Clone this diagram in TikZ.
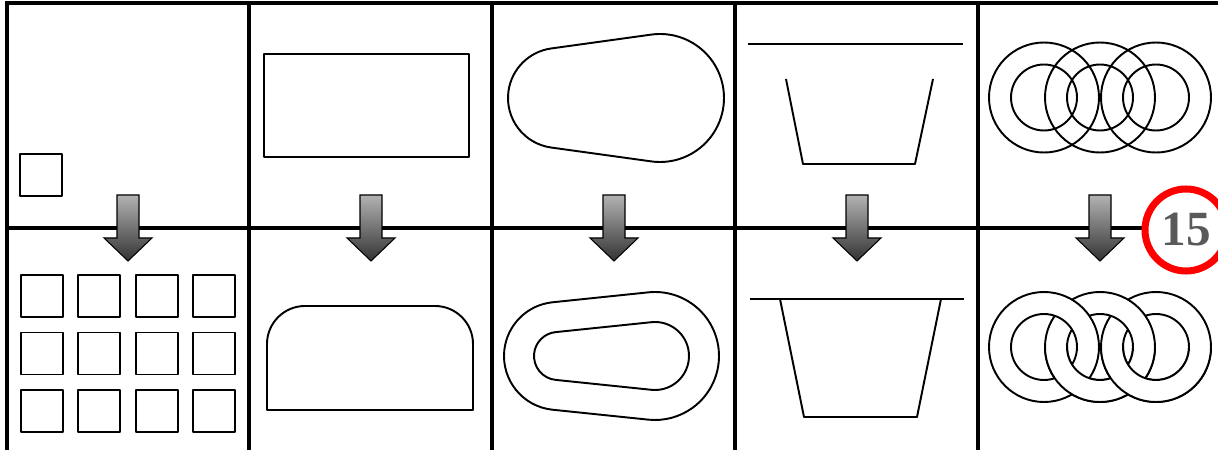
\documentclass[tikz,border=0pt]{standalone}
\usepackage{fontspec}
\newfontfamily\badgefont{Liberation Serif}
\usetikzlibrary{positioning}

\begin{document}
\begin{tikzpicture}[x=0.02cm, y=0.02cm,
        gridline/.style={line width=1.8pt},
        outline/.style={line width=1.1pt, line join=round},
        ring/.style={outline, fill=white, even odd rule},
        downarrow/.style={draw=black, line width=0.6pt, top color=black!30, bottom color=black!80},
        badge/.style={circle, draw=red, line width=4pt, fill=white, minimum size=1.64cm, inner sep=0pt,
            text=black!65, font=\badgefont\bfseries\fontsize{28}{30}\selectfont}]

        \useasboundingbox (0,0) rectangle (1218,450);

        % Table lines
        \draw[gridline] (7,0) -- (7,447) -- (1218,447);
        \draw[gridline] (7,222) -- (1218,222);
        \foreach \x in {249,492,735,978}
            \draw[gridline] (\x,0) -- (\x,447);

        % 1st column: one square, then an array of squares
        \draw[outline] (20,254) rectangle (62,296);
        \foreach \i in {0,...,3}
            \foreach \j in {0,1,2}
                \draw[outline] ({21+57.3*\i},{18+57.5*\j}) rectangle +(42,42);

        % 2nd column: rectangle, then rounded top edges
        \draw[outline] (264,293) rectangle (469,396);
        \draw[outline] (267,40) -- (267,106) arc (180:90:38) -- (435,144) arc (90:0:38) -- (473,40) -- cycle;

        % 3rd column: contour, then offset contour
        \draw[outline] ([shift={(97.89:64)}]660,352) arc (97.89:-97.89:64)
            -- ([shift={(262.11:50)}]558,352) arc (262.11:97.89:50) -- cycle;
        \draw[outline] ([shift={(95.92:64)}]655,94) arc (95.92:-95.92:64)
            -- ([shift={(264.08:54)}]558,94) arc (264.08:95.92:54) -- cycle;
        \draw[outline] ([shift={(95.92:34)}]655,94) arc (95.92:-95.92:34)
            -- ([shift={(264.08:24)}]558,94) arc (264.08:95.92:24) -- cycle;

        % 4th column: open profile, then joined to the line
        \draw[outline] (748,406) -- (963,406);
        \draw[outline] (786,371) -- (803,286) -- (915,286) -- (933,371);
        \draw[outline] (750,151) -- (964,151);
        \draw[outline] (780,151) -- (804,33) -- (917,33) -- (941,151);

        % 5th column: overlapping circles, then linked rings
        \foreach \x in {1044,1100,1156} {
            \draw[outline] (\x,352.5) circle (55);
            \draw[outline] (\x,352.5) circle (33);
        }
        \foreach \x in {1156,1100,1044}
            \filldraw[ring] (\x,103) circle (55) (\x,103) circle (33);
        \foreach \x in {1100,1156} {
            \begin{scope}
                \clip ({\x-60},103) rectangle ({\x+60},40);
                \filldraw[ring] (\x,103) circle (55) (\x,103) circle (33);
            \end{scope}
        }

        % Arrows
        \foreach \c in {128,371,614,857,1100}
            \shadedraw[downarrow] ({\c-11},255) -- ({\c+11},255) -- ({\c+11},212) -- ({\c+24},212)
                -- (\c,189) -- ({\c-24},212) -- ({\c-11},212) -- cycle;

        % Number
        \node[badge] (badge) at (1186,220) {15};

    \end{tikzpicture}
\end{document}
